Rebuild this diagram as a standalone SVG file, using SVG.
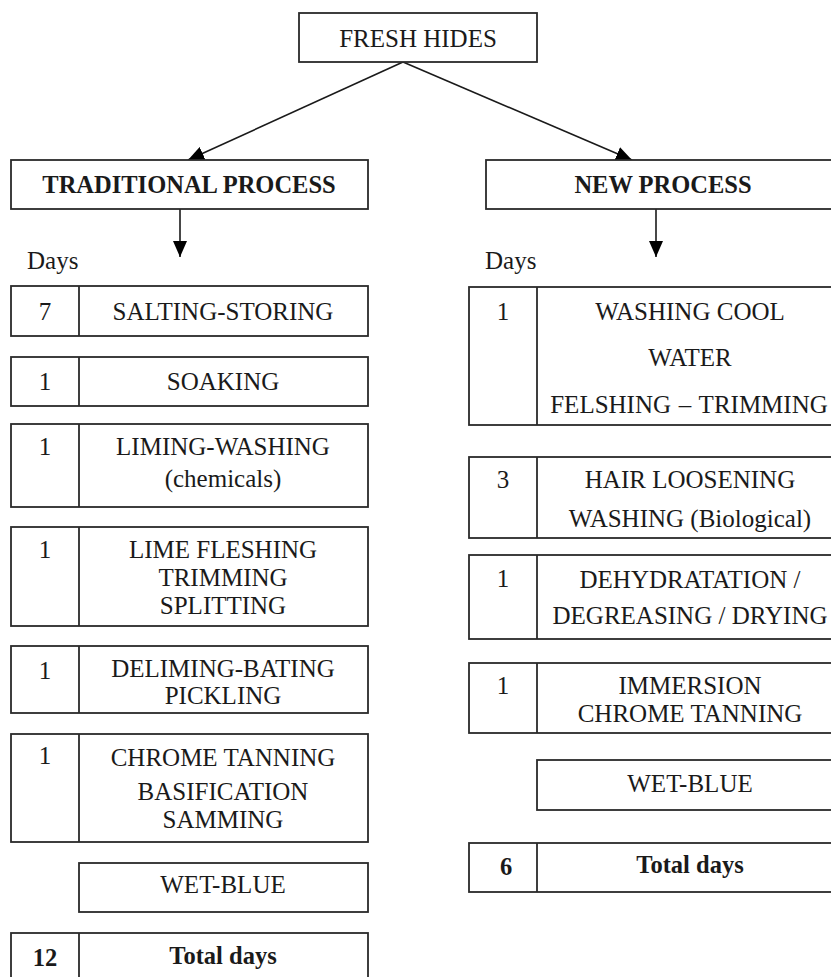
<svg xmlns="http://www.w3.org/2000/svg" width="831" height="977" viewBox="0 0 831 977">
<style>
  .box { fill: #fff; stroke: #2a2a2a; stroke-width: 1.8; }
  .div { stroke: #2a2a2a; stroke-width: 1.8; }
  .t { font-family: "Liberation Serif", "Times New Roman", serif; font-size: 25px; fill: #1a1a1a; text-anchor: middle; }
  .b { font-weight: bold; font-size: 24.5px; }
  .l { text-anchor: start; }
  .conn { stroke: #1a1a1a; stroke-width: 1.6; fill: none; marker-end: url(#ah); }
</style>
<defs>
  <marker id="ah" markerUnits="userSpaceOnUse" markerWidth="16" markerHeight="14" refX="16" refY="7" orient="auto">
    <path d="M0,0 L16,7 L0,14 z" fill="#000"/>
  </marker>
</defs>
<rect width="831" height="977" fill="#fff"/>

<g id="connectors">
  <line class="conn" x1="403" y1="62" x2="188" y2="160"/>
  <line class="conn" x1="403" y1="62" x2="632" y2="160"/>
  <line class="conn" x1="180" y1="209" x2="180" y2="257"/>
  <line class="conn" x1="656" y1="209" x2="656" y2="257"/>
</g>

<g id="fresh-hides">
  <rect class="box" x="299" y="13" width="238" height="49"/>
  <text class="t" x="418" y="47">FRESH HIDES</text>
</g>

<g id="traditional-process">
  <rect class="box" x="11" y="160" width="357" height="49"/>
  <text class="t b" x="189" y="193">TRADITIONAL PROCESS</text>
</g>

<g id="new-process">
  <rect class="box" x="486" y="160" width="357" height="49"/>
  <text class="t b" x="663" y="193">NEW PROCESS</text>
</g>

<g id="days-left"><text class="t l" x="27" y="269">Days</text></g>
<g id="days-right"><text class="t l" x="485" y="269">Days</text></g>

<!-- Traditional column -->
<g id="t-salting">
  <rect class="box" x="11" y="286" width="357" height="50"/>
  <line class="div" x1="79" y1="286" x2="79" y2="336"/>
  <text class="t" x="45" y="320">7</text>
  <text class="t" x="223" y="320">SALTING-STORING</text>
</g>
<g id="t-soaking">
  <rect class="box" x="11" y="357" width="357" height="49"/>
  <line class="div" x1="79" y1="357" x2="79" y2="406"/>
  <text class="t" x="45" y="390">1</text>
  <text class="t" x="223" y="390">SOAKING</text>
</g>
<g id="t-liming">
  <rect class="box" x="11" y="424" width="357" height="83"/>
  <line class="div" x1="79" y1="424" x2="79" y2="507"/>
  <text class="t" x="45" y="455">1</text>
  <text class="t" x="223" y="455">LIMING-WASHING</text>
  <text class="t" x="223" y="487">(chemicals)</text>
</g>
<g id="t-fleshing">
  <rect class="box" x="11" y="527" width="357" height="99"/>
  <line class="div" x1="79" y1="527" x2="79" y2="626"/>
  <text class="t" x="45" y="558">1</text>
  <text class="t" x="223" y="558">LIME FLESHING</text>
  <text class="t" x="223" y="586">TRIMMING</text>
  <text class="t" x="223" y="614">SPLITTING</text>
</g>
<g id="t-deliming">
  <rect class="box" x="11" y="646" width="357" height="67"/>
  <line class="div" x1="79" y1="646" x2="79" y2="713"/>
  <text class="t" x="45" y="679">1</text>
  <text class="t" x="223" y="677">DELIMING-BATING</text>
  <text class="t" x="223" y="704">PICKLING</text>
</g>
<g id="t-chrome">
  <rect class="box" x="11" y="734" width="357" height="108"/>
  <line class="div" x1="79" y1="734" x2="79" y2="842"/>
  <text class="t" x="45" y="764">1</text>
  <text class="t" x="223" y="766">CHROME TANNING</text>
  <text class="t" x="223" y="800">BASIFICATION</text>
  <text class="t" x="223" y="828">SAMMING</text>
</g>
<g id="t-wetblue">
  <rect class="box" x="79" y="863" width="289" height="49"/>
  <text class="t" x="223" y="893">WET-BLUE</text>
</g>
<g id="t-total">
  <rect class="box" x="11" y="933" width="357" height="60"/>
  <line class="div" x1="79" y1="933" x2="79" y2="993"/>
  <text class="t b" x="45" y="966">12</text>
  <text class="t b" x="223" y="964">Total days</text>
</g>

<!-- New column -->
<g id="n-washing">
  <rect class="box" x="469" y="287" width="374" height="138"/>
  <line class="div" x1="537" y1="287" x2="537" y2="425"/>
  <text class="t" x="503" y="320">1</text>
  <text class="t" x="690" y="320">WASHING COOL</text>
  <text class="t" x="690" y="366">WATER</text>
  <text class="t" x="689" y="413" word-spacing="1.5">FELSHING – TRIMMING</text>
</g>
<g id="n-hair">
  <rect class="box" x="469" y="457" width="374" height="81"/>
  <line class="div" x1="537" y1="457" x2="537" y2="538"/>
  <text class="t" x="503" y="488">3</text>
  <text class="t" x="690" y="488">HAIR LOOSENING</text>
  <text class="t" x="690" y="527">WASHING (Biological)</text>
</g>
<g id="n-dehydration">
  <rect class="box" x="469" y="555" width="374" height="84"/>
  <line class="div" x1="537" y1="555" x2="537" y2="639"/>
  <text class="t" x="503" y="587">1</text>
  <text class="t" x="690" y="588">DEHYDRATATION /</text>
  <text class="t" x="690" y="624">DEGREASING / DRYING</text>
</g>
<g id="n-immersion">
  <rect class="box" x="469" y="663" width="374" height="70"/>
  <line class="div" x1="537" y1="663" x2="537" y2="733"/>
  <text class="t" x="503" y="694">1</text>
  <text class="t" x="690" y="694">IMMERSION</text>
  <text class="t" x="690" y="722">CHROME TANNING</text>
</g>
<g id="n-wetblue">
  <rect class="box" x="537" y="760" width="306" height="50"/>
  <text class="t" x="690" y="792">WET-BLUE</text>
</g>
<g id="n-total">
  <rect class="box" x="469" y="843" width="374" height="49"/>
  <line class="div" x1="537" y1="843" x2="537" y2="892"/>
  <text class="t b" x="506" y="875">6</text>
  <text class="t b" x="690" y="873">Total days</text>
</g>
</svg>
